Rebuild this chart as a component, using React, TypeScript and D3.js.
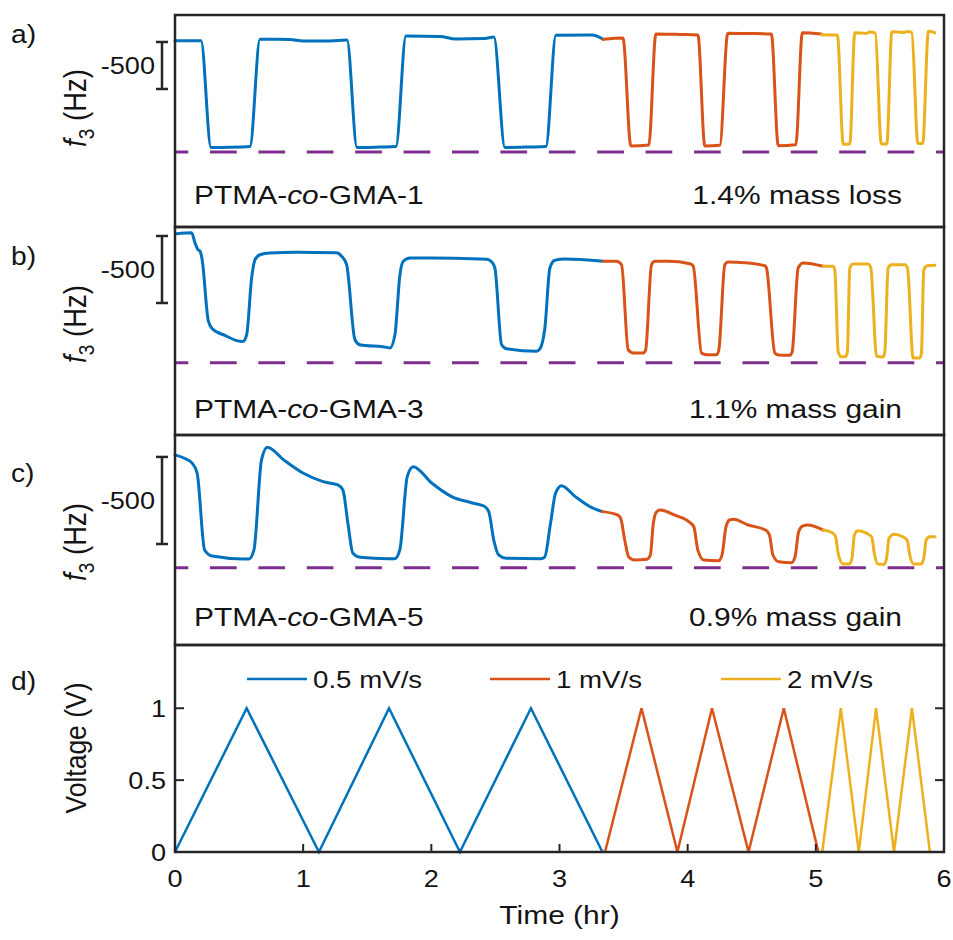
import React, { useEffect } from "react";
import * as d3 from "d3";

type Pt = [number, number];

// ---- axis ticks and labels ----
const timeTicks = [0, 1, 2, 3, 4, 5, 6];
const voltageTicks = [0, 0.5, 1];
const rateLabels = ["0.5 mV/s", "1 mV/s", "2 mV/s"];
const rateColors = ["#0072BD", "#D95319", "#EDB120"];
const panelLetters = ["a)", "b)", "c)", "d)"];
const sampleSuffix = ["1", "3", "5"];
const massChanges = ["1.4% mass loss", "1.1% mass gain", "0.9% mass gain"];
const scaleBarLabel = "-500";
const scaleBarHz: Pt = [-250, -750];
const dashedHz = [-1420, -1196, -886];
const hzDomains: Pt[] = [
  [-2218, 37],
  [-1735, -183],
  [-1330, -124],
];

// ---- applied voltage sweeps: [time (hr), voltage (V)] ----
const sweepSlow: Pt[] = [[0, 0], [0.559, 1], [1.123, 0], [1.67, 1], [2.223, 0], [2.777, 1], [3.335, 0]];
const sweepMid: Pt[] = [[3.355, 0], [3.64, 1], [3.92, 0], [4.19, 1], [4.475, 0], [4.75, 1], [5.02, 0]];
const sweepFast: Pt[] = [[5.05, 0], [5.195, 1], [5.335, 0], [5.47, 1], [5.61, 0], [5.75, 1], [5.89, 0]];

// ---- f3 response: [time (hr), frequency (Hz)] ----
const gma1Slow: Pt[] = [
  [0, -236], [0.203, -236], [0.281, -1372], [0.429, -1370], [0.585, -1362], [0.663, -221],
  [0.897, -223], [0.998, -239], [1.209, -239], [1.342, -229], [1.42, -1372], [1.599, -1367],
  [1.724, -1362], [1.802, -186], [2.067, -191], [2.192, -218], [2.418, -213], [2.488, -197],
  [2.574, -1372], [2.769, -1367], [2.894, -1362], [2.972, -179], [3.253, -176], [3.341, -221],
];
const gma1Mid: Pt[] = [
  [3.341, -221], [3.495, -207], [3.557, -1357], [3.697, -1346], [3.752, -165], [3.939, -170],
  [4.08, -176], [4.134, -1357], [4.251, -1349], [4.313, -157], [4.485, -160], [4.653, -165],
  [4.707, -1353], [4.844, -1343], [4.895, -151], [5.044, -165],
];
const gma1Fast: Pt[] = [
  [5.044, -172], [5.168, -176], [5.214, -1338], [5.265, -1335], [5.304, -151], [5.39, -160],
  [5.421, -144], [5.464, -157], [5.511, -1335], [5.554, -1335], [5.593, -140], [5.679, -149],
  [5.718, -138], [5.749, -151], [5.796, -1328], [5.834, -1330], [5.878, -136], [5.928, -151],
];

const gma3Slow: Pt[] = [
  [0.013, -233], [0.13, -225], [0.156, -302], [0.179, -352], [0.195, -362], [0.211, -422],
  [0.26, -884], [0.289, -940], [0.39, -992], [0.507, -1036], [0.53, -1037], [0.559, -987],
  [0.598, -563], [0.624, -427], [0.663, -390], [0.741, -377], [0.949, -372], [1.261, -375],
  [1.3, -401], [1.339, -464], [1.404, -1024], [1.443, -1061], [1.651, -1081], [1.677, -1086],
  [1.716, -987], [1.755, -539], [1.781, -439], [1.833, -414], [2.171, -416], [2.431, -424],
  [2.47, -442], [2.496, -489], [2.548, -1061], [2.587, -1091], [2.821, -1110], [2.847, -1093],
  [2.886, -937], [2.925, -489], [2.964, -431], [3.042, -422], [3.341, -439],
];
const gma3Mid: Pt[] = [
  [3.341, -439], [3.445, -439], [3.484, -464], [3.536, -1099], [3.575, -1123], [3.653, -1123],
  [3.672, -1101], [3.718, -464], [3.744, -439], [3.848, -439], [4.017, -457], [4.043, -474],
  [4.108, -1123], [4.147, -1136], [4.225, -1136], [4.243, -1101], [4.29, -464], [4.316, -444],
  [4.446, -449], [4.602, -472], [4.615, -489], [4.68, -1123], [4.706, -1138], [4.797, -1140],
  [4.815, -1116], [4.862, -489], [4.901, -451], [5.057, -476],
];
const gma3Fast: Pt[] = [
  [5.057, -476], [5.135, -476], [5.148, -504], [5.174, -1110], [5.195, -1151], [5.232, -1151],
  [5.246, -1116], [5.265, -489], [5.291, -459], [5.408, -459], [5.429, -489], [5.474, -1148],
  [5.525, -1153], [5.538, -1116], [5.564, -489], [5.59, -464], [5.694, -464], [5.715, -489],
  [5.759, -1160], [5.811, -1160], [5.824, -1123], [5.842, -504], [5.868, -472], [5.928, -469],
];

const gma5Slow: Pt[] = [
  [0, -238], [0.078, -259], [0.134, -286], [0.173, -344], [0.231, -784], [0.289, -819],
  [0.538, -836], [0.577, -836], [0.616, -784], [0.675, -267], [0.721, -194], [0.848, -267],
  [1.002, -344], [1.156, -392], [1.271, -411], [1.31, -440], [1.349, -631], [1.388, -803],
  [1.445, -826], [1.658, -834], [1.715, -834], [1.754, -784], [1.812, -363], [1.858, -306],
  [2.005, -401], [2.159, -478], [2.313, -513], [2.41, -532], [2.448, -564], [2.487, -727],
  [2.525, -813], [2.583, -832], [2.853, -834], [2.884, -826], [2.93, -631], [2.969, -459],
  [3.015, -415], [3.123, -478], [3.239, -536], [3.335, -564],
];
const gma5Mid: Pt[] = [
  [3.335, -564], [3.451, -583], [3.477, -602], [3.509, -727], [3.539, -823], [3.586, -842],
  [3.682, -838], [3.709, -813], [3.732, -631], [3.759, -564], [3.786, -555], [3.894, -583],
  [4.009, -622], [4.048, -651], [4.079, -784], [4.126, -842], [4.241, -846], [4.268, -813],
  [4.299, -651], [4.326, -612], [4.357, -608], [4.472, -641], [4.608, -670], [4.638, -698],
  [4.665, -813], [4.711, -852], [4.812, -857], [4.838, -823], [4.866, -679], [4.896, -647],
  [4.935, -641], [5.059, -670],
];
const gma5Fast: Pt[] = [
  [5.059, -670], [5.128, -685], [5.154, -708], [5.174, -803], [5.213, -865], [5.263, -865],
  [5.282, -832], [5.301, -698], [5.328, -674], [5.398, -689], [5.437, -711], [5.456, -803],
  [5.483, -865], [5.533, -867], [5.552, -832], [5.571, -717], [5.61, -694], [5.679, -708],
  [5.714, -731], [5.733, -813], [5.764, -865], [5.822, -865], [5.842, -832], [5.861, -727],
  [5.888, -708], [5.93, -708],
];

const f3Series: Pt[][][] = [
  [gma1Slow, gma1Mid, gma1Fast],
  [gma3Slow, gma3Mid, gma3Fast],
  [gma5Slow, gma5Mid, gma5Fast],
];
const sweeps: Pt[][] = [sweepSlow, sweepMid, sweepFast];

// ---- layout ----
const W = 953;
const H = 940;
const LEFT = 175;
const RIGHT = 944;
const PANELS: Pt[] = [
  [15, 227],
  [227, 435],
  [435, 645],
  [645, 852],
];
const YLABEL_CENTERS = [108, 324, 542, 748];
const LETTER_BASELINES = [43, 265, 482, 690];
const NOTE_BASELINES = [203.5, 418, 626];
const FONT = "'Liberation Sans', Arial, Helvetica, sans-serif";
const AXIS = "#262626";
const INK = "#141414";
const PURPLE = "#7E2F8E";
const SX = 1.13; // horizontal text stretch
const FS_TICK = 24;
const FS_NOTE = 26.5;
const FS_LEGEND = 24.5;
const FS_LABEL = 26.5;

const x = d3.scaleLinear().domain([0, 6]).range([LEFT, RIGHT]);

type TxtProps = {
  x: number;
  y: number;
  size: number;
  anchor?: "start" | "middle" | "end";
  vertical?: boolean;
  children: React.ReactNode;
};

function Txt({ x: tx, y: ty, size, anchor = "start", vertical = false, children }: TxtProps) {
  const transform = `translate(${tx},${ty}) scale(${SX},1)` + (vertical ? " rotate(-90)" : "");
  return (
    <text transform={transform} fontSize={size} textAnchor={anchor} fill={INK}>
      {children}
    </text>
  );
}

export default function App() {
  useEffect(() => {
    document.body.style.margin = "0";
  }, []);

  const [dTop, dBottom] = PANELS[3];
  const yV = d3.scaleLinear().domain([0, 1.44]).range([dBottom, dTop]);
  const vLine = d3
    .line<Pt>()
    .x((d) => x(d[0]))
    .y((d) => yV(d[1]));

  const legendX = [247, 490, 721];
  const legendY = 679;

  return (
    <svg width={W} height={H} style={{ display: "block", background: "#fff" }} fontFamily={FONT}>
      <rect x={0} y={0} width={W} height={H} fill="#fff" />

      {/* frequency panels */}
      {f3Series.map((series, i) => {
        const [top, bottom] = PANELS[i];
        const y = d3.scaleLinear().domain(hzDomains[i]).range([bottom, top]);
        const line = d3
          .line<Pt>()
          .x((d) => x(d[0]))
          .y((d) => y(d[1]))
          .curve(d3.curveMonotoneX);
        const barTop = y(scaleBarHz[0]);
        const barBottom = y(scaleBarHz[1]);
        const barMid = (barTop + barBottom) / 2;
        return (
          <g key={i}>
            <line
              x1={LEFT}
              x2={RIGHT}
              y1={y(dashedHz[i])}
              y2={y(dashedHz[i])}
              stroke={PURPLE}
              strokeWidth={3}
              strokeDasharray="26.7 21.7"
              strokeDashoffset={13.4}
            />
            {series.map((s, k) => (
              <path
                key={k}
                d={line(s) || ""}
                fill="none"
                stroke={rateColors[k]}
                strokeWidth={3}
                strokeLinejoin="round"
                strokeLinecap="round"
              />
            ))}
            {/* 500 Hz scale bar */}
            <g stroke={AXIS} strokeWidth={2.5}>
              <line x1={162} x2={162} y1={barTop} y2={barBottom} />
              <line x1={156} x2={168} y1={barTop} y2={barTop} />
              <line x1={156} x2={168} y1={barBottom} y2={barBottom} />
            </g>
            <Txt x={155} y={barMid + 8.5} size={FS_TICK} anchor="end">
              {scaleBarLabel}
            </Txt>
            <Txt x={86} y={YLABEL_CENTERS[i]} size={27.5} anchor="middle" vertical>
              <tspan fontStyle="italic">f</tspan>
              <tspan fontSize={19} dy={7}>3</tspan>
              <tspan dy={-7}> (Hz)</tspan>
            </Txt>
            <Txt x={194} y={NOTE_BASELINES[i]} size={FS_NOTE}>
              <tspan>PTMA-</tspan>
              <tspan fontStyle="italic">co</tspan>
              <tspan>-GMA-{sampleSuffix[i]}</tspan>
            </Txt>
            <Txt x={902} y={NOTE_BASELINES[i]} size={FS_NOTE} anchor="end">
              {massChanges[i]}
            </Txt>
            <rect
              x={LEFT}
              y={top}
              width={RIGHT - LEFT}
              height={bottom - top}
              fill="none"
              stroke={AXIS}
              strokeWidth={2.5}
            />
          </g>
        );
      })}

      {/* voltage panel */}
      <g>
        {sweeps.map((s, k) => (
          <path key={k} d={vLine(s) || ""} fill="none" stroke={rateColors[k]} strokeWidth={2.5} />
        ))}
        {rateLabels.map((lab, k) => (
          <g key={lab}>
            <line
              x1={legendX[k]}
              x2={legendX[k] + 60}
              y1={legendY}
              y2={legendY}
              stroke={rateColors[k]}
              strokeWidth={2.5}
            />
            <Txt x={legendX[k] + 66} y={legendY + 9} size={FS_LEGEND}>
              {lab}
            </Txt>
          </g>
        ))}
        {timeTicks.map((t) => (
          <g key={t}>
            <line x1={x(t)} x2={x(t)} y1={dBottom} y2={dBottom - 8} stroke={AXIS} strokeWidth={2} />
            <Txt x={x(t)} y={887} size={FS_TICK} anchor="middle">
              {t}
            </Txt>
          </g>
        ))}
        {voltageTicks.map((v) => (
          <g key={v}>
            <line x1={LEFT} x2={LEFT + 9} y1={yV(v)} y2={yV(v)} stroke={AXIS} strokeWidth={2} />
            <line x1={RIGHT} x2={RIGHT - 9} y1={yV(v)} y2={yV(v)} stroke={AXIS} strokeWidth={2} />
            <Txt x={166} y={yV(v) + 8.5} size={FS_TICK} anchor="end">
              {v}
            </Txt>
          </g>
        ))}
        <rect
          x={LEFT}
          y={dTop}
          width={RIGHT - LEFT}
          height={dBottom - dTop}
          fill="none"
          stroke={AXIS}
          strokeWidth={2.5}
        />
        <Txt x={86} y={YLABEL_CENTERS[3]} size={FS_LABEL} anchor="middle" vertical>
          Voltage (V)
        </Txt>
        <Txt x={(LEFT + RIGHT) / 2} y={924} size={FS_LABEL} anchor="middle">
          Time (hr)
        </Txt>
      </g>

      {panelLetters.map((p, i) => (
        <Txt key={p} x={11} y={LETTER_BASELINES[i]} size={25}>
          {p}
        </Txt>
      ))}
    </svg>
  );
}
